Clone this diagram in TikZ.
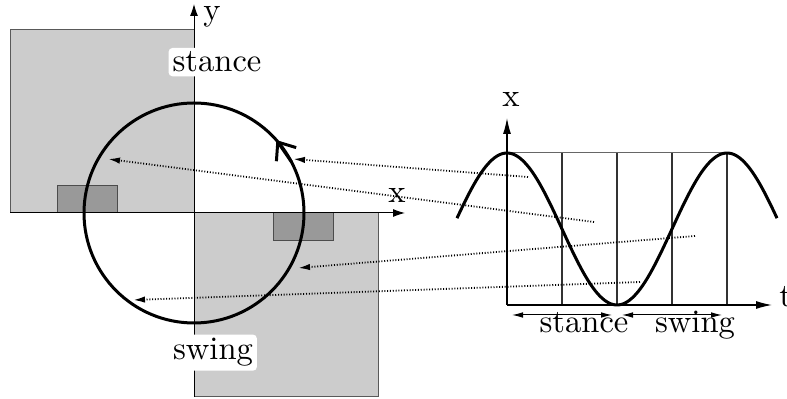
\documentclass[tikz,border=0pt]{standalone}
\usepackage{fontspec}
\newfontfamily\lmten{lmroman10-regular}[Extension=.otf]
\usetikzlibrary{arrows.meta}
\begin{document}
\begin{tikzpicture}[x=0.5pt,y=-0.5pt,
  lbl/.style={font=\lmten\fontsize{16.3}{19}\selectfont, inner sep=0pt, anchor=base},
  tag/.style={lbl, fill=white, rounded corners=2pt, inner sep=2pt},
  axis/.style={line width=0.5pt, -{Latex[length=6pt,width=4pt]}},
  raxis/.style={line width=0.6pt, -{Latex[length=8pt,width=4pt]}},
  lightbox/.style={fill=black!20, draw=black!65, line width=0.5pt},
  darkbox/.style={fill=black!40, draw=black!70, line width=0.5pt},
  mapline/.style={line width=0.9pt, dash pattern=on 0.5pt off 0.9pt, -{Latex[length=6pt,width=3.2pt]}},
  spanarrow/.style={line width=0.5pt, {Latex[length=5.5pt,width=2.8pt]}-{Latex[length=5.5pt,width=2.8pt]}},
  thickcurve/.style={line width=1.5pt},
  grid/.style={line width=0.6pt, draw=black!80},
]
\useasboundingbox (0,0) rectangle (787,399);
% boxes
\draw[lightbox] (10,30) rectangle (194,213);
\draw[lightbox] (194,213) rectangle (378,397);
\draw[darkbox] (57,186) rectangle (117,213);
\draw[darkbox] (273,213) rectangle (333,241);
% left axes
\coordinate (o) at (194,213);
\coordinate (ybot) at (194,397);
\coordinate (ytop) at (194,4);
\coordinate (xl) at (10,213);
\coordinate (xr) at (405,213);
\draw[axis] (ybot) -- (ytop);
\draw[axis] (xl) -- (xr);
\node[lbl] (ylab) at (212,21) {y};
\node[lbl] (xlab) at (397,203) {x};
% circle
\draw[thickcurve] (o) circle[radius=55pt];
\coordinate (a1) at (291.5,162);
\coordinate (a2) at (276.4,140.1);
\draw[thickcurve, -{Straight Barb[length=7.5pt,width=12pt]}] (a1) -- (a2);
\node[tag] (stanceL) at (217,72) {stance};
\node[tag] (swingL) at (213,360) {swing};
% right graph
\coordinate (ro) at (507,305);
\coordinate (rtop) at (507,118);
\coordinate (rright) at (772,305);
\draw[grid, draw=black!60, line width=0.5pt] (507,153) -- (727,153);
\foreach \xx in {562,617,672,727} \draw[grid] (\xx,153) -- (\xx,305);
\draw[raxis] (ro) -- (rtop);
\draw[raxis] (ro) -- (rright);
\node[lbl] (rxlab) at (511,107) {x};
\node[lbl, anchor=base west] (tlab) at (779,307) {t};
\draw[thickcurve] plot[domain=-50:270,samples=120,smooth] ({507+\x},{229-76*cos(\x/220*360)});
\coordinate (sp1a) at (512,315); \coordinate (sp1b) at (612,315);
\coordinate (sp2a) at (622,315); \coordinate (sp2b) at (722,315);
\draw[spanarrow] (sp1a) -- (sp1b);
\draw[spanarrow] (sp2a) -- (sp2b);
\node[lbl] (stanceR) at (584,333) {stance};
\node[lbl] (swingR) at (695,333) {swing};
% mapping arrows
\coordinate (s1) at (528,177); \coordinate (c1) at (293,159);
\coordinate (s2) at (594,222); \coordinate (c2) at (108,159);
\coordinate (s3) at (695,236); \coordinate (c3) at (298,268);
\coordinate (s4) at (640,282); \coordinate (c4) at (133,300);
\draw[mapline] (s1) -- (c1);
\draw[mapline] (s2) -- (c2);
\draw[mapline] (s3) -- (c3);
\draw[mapline] (s4) -- (c4);
\end{tikzpicture}
\end{document}
